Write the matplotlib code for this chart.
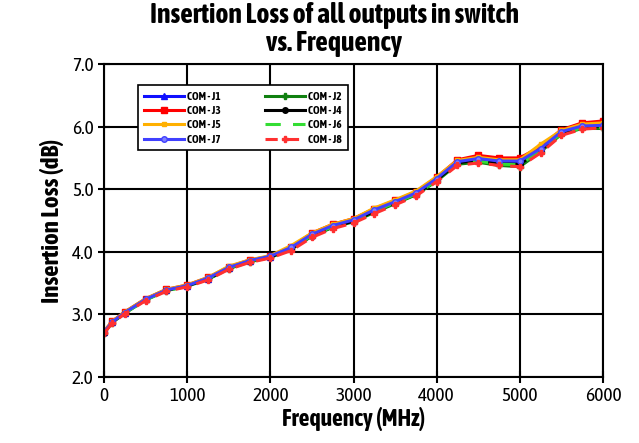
import matplotlib
matplotlib.use("Agg")
import matplotlib.pyplot as plt
from matplotlib import font_manager

# condensed bold face like Arial Narrow Bold, if one is installed
fl = font_manager.fontManager.ttflist
def is_cond(f):
    return 'condensed' in str(f.stretch).lower() or 'Narrow' in f.name or 'Condensed' in f.name
bold_cond = sorted({f.name for f in fl if is_cond(f) and (f.weight in ('bold', 700) or str(f.weight) in ('bold', '700'))})
plt.rcParams['font.family'] = bold_cond[:1] + ['Liberation Sans', 'DejaVu Sans']
plt.rcParams['font.stretch'] = 'condensed'

freq = [0, 100, 250, 500, 750, 1000, 1250, 1500, 1750, 2000, 2250, 2500, 2750,
        3000, 3250, 3500, 3750, 4000, 4250, 4500, 4750, 5000, 5250, 5500, 5750, 6000]

j1 = [2.72, 2.88, 3.03, 3.24, 3.39, 3.46, 3.57, 3.74, 3.85, 3.92, 4.06, 4.27, 4.41,
      4.50, 4.66, 4.79, 4.93, 5.16, 5.44, 5.50, 5.46, 5.44, 5.66, 5.92, 6.02, 6.04]
j2 = [2.71, 2.87, 3.02, 3.23, 3.38, 3.45, 3.56, 3.73, 3.84, 3.91, 4.04, 4.25, 4.39,
      4.48, 4.63, 4.77, 4.91, 5.13, 5.40, 5.43, 5.38, 5.36, 5.60, 5.88, 5.97, 5.97]
j3 = [2.73, 2.89, 3.04, 3.25, 3.40, 3.47, 3.59, 3.76, 3.87, 3.93, 4.08, 4.30, 4.44,
      4.53, 4.69, 4.82, 4.96, 5.19, 5.47, 5.54, 5.50, 5.50, 5.68, 5.95, 6.06, 6.09]
j4 = [2.71, 2.88, 3.03, 3.24, 3.39, 3.46, 3.57, 3.74, 3.85, 3.92, 4.05, 4.26, 4.40,
      4.49, 4.65, 4.78, 4.92, 5.15, 5.42, 5.47, 5.42, 5.40, 5.63, 5.90, 6.00, 6.01]
j5 = [2.73, 2.89, 3.04, 3.25, 3.40, 3.47, 3.59, 3.77, 3.87, 3.94, 4.10, 4.30, 4.44,
      4.53, 4.70, 4.83, 4.97, 5.20, 5.46, 5.51, 5.47, 5.47, 5.72, 5.94, 6.04, 6.06]
j6 = [2.71, 2.87, 3.02, 3.23, 3.38, 3.45, 3.57, 3.74, 3.85, 3.92, 4.05, 4.26, 4.40,
      4.49, 4.65, 4.78, 4.92, 5.14, 5.42, 5.45, 5.40, 5.39, 5.62, 5.89, 5.98, 5.99]
j7 = [2.72, 2.88, 3.03, 3.24, 3.39, 3.46, 3.58, 3.75, 3.86, 3.93, 4.07, 4.28, 4.42,
      4.51, 4.67, 4.80, 4.94, 5.17, 5.44, 5.49, 5.45, 5.45, 5.65, 5.92, 6.01, 6.02]
j8 = [2.70, 2.86, 3.01, 3.22, 3.37, 3.44, 3.55, 3.72, 3.83, 3.90, 4.02, 4.23, 4.37,
      4.46, 4.61, 4.75, 4.89, 5.12, 5.38, 5.42, 5.38, 5.36, 5.58, 5.86, 5.96, 5.98]

labels = ['COM - J1', 'COM - J2', 'COM - J3', 'COM - J4',
          'COM - J5', 'COM - J6', 'COM - J7', 'COM - J8']
series = [j1, j2, j3, j4, j5, j6, j7, j8]
styles = [
    dict(color='#1010ff', marker='^', ms=5, ls='-'),
    dict(color='#108010', marker='P', ms=4, ls='-'),
    dict(color='#ff0000', marker='s', ms=5, ls='-'),
    dict(color='black', marker='o', ms=4, ls='-'),
    dict(color='#ffb000', marker='s', ms=3.5, ls='-'),
    dict(color='#33dd33', marker=None, ls=(0, (5, 4))),
    dict(color='#4040ff', marker='o', ms=4, mfc='#8080ff', ls='-'),
    dict(color='#ff3030', marker='P', ms=4.5, ls=(0, (4, 3))),
]

fig = plt.figure(figsize=(6.39, 4.43), dpi=100)
ax = fig.add_axes([0.1628, 0.149, 0.7809, 0.7065])

handles = []
for y, lab, st in zip(series, labels, styles):
    h, = ax.plot(freq, y, label=lab, lw=2.2, **st)
    handles.append(h)

ax.set_xlim(0, 6000)
ax.set_ylim(2.0, 7.0)
ax.set_xticks(range(0, 6001, 1000))
ax.set_yticks([2, 3, 4, 5, 6, 7])
ax.set_yticklabels([f'{v:.1f}' for v in [2, 3, 4, 5, 6, 7]])
ax.grid(True, color='black', lw=1.5)
for s in ax.spines.values():
    s.set_linewidth(1.5)
ax.tick_params(direction='inout', length=8, width=1.5, labelsize=14)

ax.set_xlabel('Frequency (MHz)', fontsize=17, fontweight='bold', labelpad=1)
ax.set_ylabel('Insertion Loss (dB)', fontsize=18, fontweight='bold', labelpad=6)
fig.text(0.523, 0.995, 'Insertion Loss of all outputs in switch\nvs. Frequency',
         ha='center', va='top', fontsize=20, fontweight='bold', linespacing=1.05)

# legend reads row by row: J1 J2 / J3 J4 / ...
order = [0, 2, 4, 6, 1, 3, 5, 7]
leg = ax.legend([handles[i] for i in order], [labels[i] for i in order],
                ncol=2, loc='upper left', bbox_to_anchor=(0.068, 0.933),
                borderaxespad=0,
                fancybox=False, edgecolor='black', framealpha=1,
                handlelength=3.6, handletextpad=0.3, columnspacing=4,
                borderpad=0.5, labelspacing=0.3, prop={'weight': 'bold', 'size': 8})
leg.get_frame().set_linewidth(1.2)

fig.savefig('out.png', dpi=100)
